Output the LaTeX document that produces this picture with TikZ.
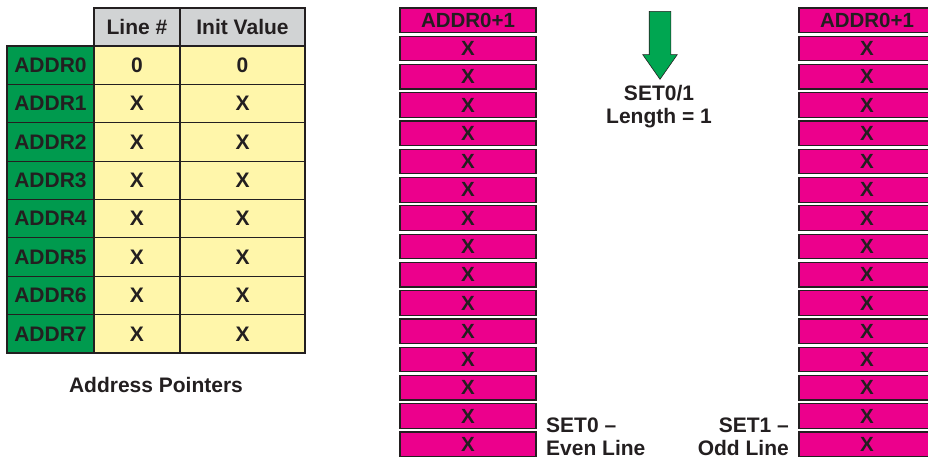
\documentclass[tikz,border=0pt]{standalone}
\usepackage{fontspec}
\setmainfont{Liberation Sans}
\usepackage{xcolor}
\usetikzlibrary{shapes.arrows, positioning}

\definecolor{addrgreen}{RGB}{0,154,78}
\definecolor{arrowgreen}{RGB}{0,166,81}
\definecolor{cellyellow}{RGB}{255,246,170}
\definecolor{headgray}{RGB}{209,211,212}
\definecolor{linemagenta}{RGB}{236,0,140}
\definecolor{textdark}{RGB}{35,31,32}

\begin{document}
\begin{tikzpicture}[
    x=1pt, y=-1pt,
    cell/.style={rectangle, draw=textdark, line width=1.2pt, outer sep=0pt, inner sep=0pt, minimum height=38.375pt, text=textdark, font=\fontsize{21}{21}\selectfont\bfseries},
    addr/.style={cell, fill=addrgreen, minimum width=87pt},
    linecell/.style={cell, fill=cellyellow, minimum width=86pt},
    initcell/.style={cell, fill=cellyellow, minimum width=125pt},
    headcell/.style={cell, fill=headgray, minimum height=38pt},
    linebox/.style={rectangle, draw=textdark, line width=1.2pt, fill=linemagenta, inner sep=0pt, minimum width=136pt, minimum height=24.5pt, text=textdark, font=\fontsize{20.5}{20.5}\selectfont\bfseries},
    lbl/.style={text=textdark, inner sep=0pt, font=\fontsize{21}{23}\selectfont\bfseries}
]
\useasboundingbox (0,0) rectangle (928,459);

% Address pointer table
\foreach \i/\v in {0/0,1/X,2/X,3/X,4/X,5/X,6/X,7/X} {
  \node[addr] (addr\i) at (50.5, {46+38.375*(\i+0.5)}) {ADDR\i};
  \node[linecell, right=0pt of addr\i] (num\i) {\v};
  \node[initcell, right=0pt of num\i] (init\i) {\v};
}
\node[headcell, minimum width=86pt, above=0pt of num0] (hnum) {Line \#};
\node[headcell, minimum width=125pt, above=0pt of init0] (hinit) {Init Value};
\node[lbl] (ptrcap) at (156,385) {Address Pointers};

% Line buffers: SET0 (even) and SET1 (odd)
\node[linebox] (even0) at (468,20.25) {ADDR0+1};
\node[linebox] (odd0) at (867,20.25) {ADDR0+1};
\foreach \i in {1,...,15} {
  \node[linebox] (even\i) at (468, {20.25+28.27*\i}) {X};
  \node[linebox] (odd\i) at (867, {20.25+28.27*\i}) {X};
}

% Direction arrow
\node[single arrow, rotate=-90, draw=textdark, line width=0.6pt, fill=arrowgreen, inner sep=10.5pt, minimum height=68pt, single arrow head extend=6.5pt, single arrow tip angle=70, anchor=tail] (setarrow) at (660,11) {};
\node[lbl, align=center] (setlen) at (659,106.5) {SET0/1\\Length = 1};

\node[lbl, align=left, anchor=west] (evencap) at (546,436.5) {SET0 –\\Even Line};
\node[lbl, align=right, anchor=east] (oddcap) at (789,436.5) {SET1 –\\Odd Line};

\end{tikzpicture}
\end{document}
